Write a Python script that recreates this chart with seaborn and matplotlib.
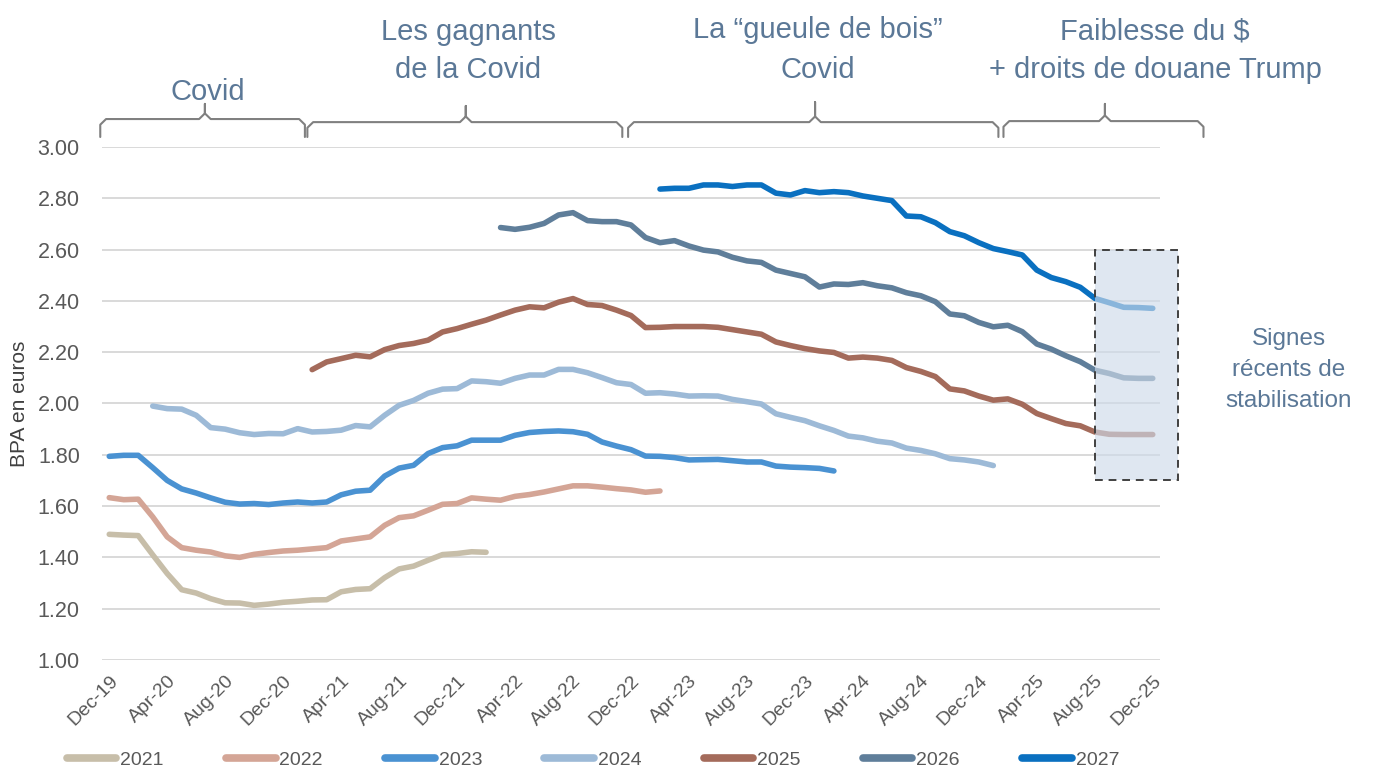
import numpy as np
import pandas as pd
import matplotlib
matplotlib.use("Agg")
import matplotlib.pyplot as plt
import seaborn as sns
from matplotlib.patches import Rectangle

# Data: monthly consensus EPS (BPA) per fiscal year, Dec-19 .. Dec-25
months = pd.date_range("2019-12-01", periods=73, freq="MS").strftime("%b-%y").tolist()

years = ["2021", "2022", "2023", "2024", "2025", "2026", "2027"]
starts = [0, 0, 0, 3, 14, 27, 38]   # month index of first value

y2021 = [1.49, 1.487, 1.485, 1.41, 1.337, 1.274, 1.261, 1.239, 1.223, 1.222,
         1.213, 1.218, 1.225, 1.229, 1.234, 1.235, 1.266, 1.275, 1.278, 1.321,
         1.355, 1.366, 1.389, 1.411, 1.415, 1.422, 1.42]
y2022 = [1.633, 1.625, 1.627, 1.558, 1.48, 1.438, 1.428, 1.421, 1.406, 1.40,
         1.412, 1.419, 1.425, 1.428, 1.433, 1.438, 1.464, 1.472, 1.48, 1.525,
         1.555, 1.562, 1.584, 1.607, 1.61, 1.632, 1.627, 1.623, 1.638, 1.645,
         1.655, 1.667, 1.679, 1.679, 1.674, 1.668, 1.663, 1.654, 1.659]
y2023 = [1.794, 1.798, 1.798, 1.75, 1.70, 1.667, 1.651, 1.632, 1.615, 1.608,
         1.61, 1.606, 1.612, 1.616, 1.612, 1.616, 1.644, 1.658, 1.662, 1.717,
         1.748, 1.759, 1.805, 1.828, 1.835, 1.857, 1.857, 1.857, 1.876, 1.887,
         1.891, 1.893, 1.89, 1.88, 1.85, 1.834, 1.82, 1.795, 1.794, 1.789,
         1.78, 1.781, 1.782, 1.777, 1.772, 1.772, 1.756, 1.752, 1.75, 1.747,
         1.737]
y2024 = [1.99, 1.98, 1.978, 1.954, 1.906, 1.90, 1.886, 1.879, 1.883, 1.882,
         1.902, 1.889, 1.891, 1.896, 1.914, 1.909, 1.954, 1.993, 2.012, 2.04,
         2.056, 2.058, 2.088, 2.085, 2.079, 2.098, 2.111, 2.111, 2.133, 2.133,
         2.12, 2.101, 2.081, 2.074, 2.04, 2.042, 2.037, 2.029, 2.03, 2.029,
         2.016, 2.007, 1.998, 1.96, 1.946, 1.933, 1.913, 1.895, 1.873, 1.866,
         1.853, 1.846, 1.826, 1.817, 1.804, 1.785, 1.78, 1.772, 1.758]
y2025 = [2.132, 2.162, 2.175, 2.188, 2.182, 2.21, 2.226, 2.234, 2.247, 2.279,
         2.292, 2.309, 2.325, 2.345, 2.364, 2.377, 2.373, 2.395, 2.409, 2.386,
         2.382, 2.364, 2.343, 2.296, 2.297, 2.30, 2.30, 2.30, 2.297, 2.288,
         2.279, 2.27, 2.24, 2.226, 2.214, 2.205, 2.199, 2.177, 2.181, 2.177,
         2.168, 2.14, 2.125, 2.105, 2.057, 2.049, 2.029, 2.013, 2.018, 1.997,
         1.961, 1.941, 1.922, 1.913, 1.889, 1.88, 1.879, 1.879, 1.879]
y2026 = [2.686, 2.679, 2.687, 2.702, 2.735, 2.744, 2.713, 2.709, 2.709, 2.696,
         2.647, 2.627, 2.635, 2.614, 2.598, 2.591, 2.57, 2.556, 2.55, 2.52,
         2.507, 2.494, 2.454, 2.466, 2.464, 2.471, 2.459, 2.451, 2.432, 2.42,
         2.397, 2.349, 2.342, 2.316, 2.299, 2.305, 2.28, 2.232, 2.212, 2.186,
         2.163, 2.13, 2.117, 2.1, 2.098, 2.098]
y2027 = [2.836, 2.839, 2.839, 2.852, 2.852, 2.846, 2.852, 2.852, 2.82, 2.813,
         2.83, 2.822, 2.826, 2.822, 2.809, 2.80, 2.791, 2.731, 2.728, 2.705,
         2.67, 2.654, 2.627, 2.604, 2.592, 2.579, 2.52, 2.491, 2.475, 2.453,
         2.41, 2.393, 2.375, 2.374, 2.371]

colors = ["#c7bea9", "#d4a596", "#4a92d2", "#9dbad7", "#a46b5b", "#5f7e9a", "#0a70c0"]

tick_pos = list(range(0, 73, 4))
tick_labels = [months[i] for i in tick_pos]
y_ticks = [1.0, 1.2, 1.4, 1.6, 1.8, 2.0, 2.2, 2.4, 2.6, 2.8, 3.0]

# Build long dataframe
series = [y2021, y2022, y2023, y2024, y2025, y2026, y2027]
frames = []
for yr, s0, vals in zip(years, starts, series):
    frames.append(pd.DataFrame({"month": np.arange(s0, s0 + len(vals)),
                                "bpa": vals, "year": yr}))
df = pd.concat(frames, ignore_index=True)

##############################
# Plot
##############################
sns.set_style("white")
plt.rcParams["font.family"] = ["Liberation Sans", "DejaVu Sans"]

fig = plt.figure(figsize=(13.75, 7.7), dpi=100)
ax = fig.add_axes([102 / 1375, 1 - 660 / 770, 1058 / 1375, 513 / 770])

sns.lineplot(data=df, x="month", y="bpa", hue="year", hue_order=years,
             palette=dict(zip(years, colors)), linewidth=4.0, ax=ax,
             solid_capstyle="round", solid_joinstyle="round", zorder=3)

ax.set_xlim(-0.5, 72.5)
ax.set_ylim(1.0, 3.0)
ax.set_yticks(y_ticks)
ax.set_yticklabels(["{:.2f}".format(v) for v in y_ticks], fontsize=15.5, color="#595959")
ax.set_xticks(tick_pos)
ax.set_xticklabels(tick_labels, rotation=45, ha="right", rotation_mode="anchor",
                   fontsize=14, color="#595959")
ax.tick_params(axis="x", length=0, pad=9)
ax.tick_params(axis="y", length=0, pad=16)
ax.grid(axis="y", color="#d9d9d9", linewidth=1.4, zorder=0)
ax.set_axisbelow(True)
for sp in ax.spines.values():
    sp.set_visible(False)
ax.set_xlabel("")
ax.set_ylabel("BPA en euros", fontsize=15, color="#404040")
ax.yaxis.set_label_coords(-0.069, 0.5)

# Stabilisation box
ax.add_patch(Rectangle((68.03, 1.70), 5.73, 0.90, facecolor="#cfdbea", alpha=0.65,
                       edgecolor="none", zorder=4, clip_on=False))
ax.add_patch(Rectangle((68.03, 1.70), 5.73, 0.90, facecolor="none", edgecolor="#404040",
                       linestyle=(0, (4, 3)), linewidth=1.4, zorder=5, clip_on=False))

# Braces above the chart
def brace(x0, x1, xm, y_line, y_tip, y_end=3.039):
    d, e = 0.4, 0.022
    xs = [x0, x0, x0 + d, xm - d, xm, xm, xm, xm + d, x1 - d, x1, x1]
    ys = [y_end, y_line - e, y_line, y_line, y_line + e, y_tip, y_line + e,
          y_line, y_line, y_line - e, y_end]
    ax.plot(xs, ys, color="#808080", linewidth=1.5, clip_on=False, zorder=6)

brace(-0.62, 13.5, 6.6, 3.109, 3.168)
brace(13.67, 35.4, 24.6, 3.097, 3.16)
brace(35.8, 61.35, 48.7, 3.097, 3.175)
brace(61.7, 75.5, 68.7, 3.101, 3.168)

txt_color = "#5b7897"
def fig_txt(x, y, s, size=21, ls=1.5):
    fig.text(x / 1375, 1 - y / 770, s, ha="center", va="center", fontsize=size,
             color=txt_color, linespacing=ls)

fig_txt(208, 92, "Covid")
fig_txt(468, 51, "Les gagnants\nde la Covid")
fig_txt(818, 50, "La \u201cgueule de bois\u201d\nCovid")
fig_txt(1155, 51, "Faiblesse du $\n+ droits de douane Trump")
fig_txt(1289, 370, "Signes\nr\u00e9cents de\nstabilisation", size=17.5, ls=1.55)

# Legend
sns.move_legend(ax, loc="center", bbox_to_anchor=(0.464, -0.195), ncol=7, title=None,
                frameon=False, fontsize=14, handlelength=2.55, handletextpad=0.2,
                columnspacing=3.2)
leg = ax.get_legend()
for h in leg.legend_handles:
    h.set_linewidth(5.5)
for t in leg.get_texts():
    t.set_color("#595959")

plt.savefig("out.png", dpi=100)
